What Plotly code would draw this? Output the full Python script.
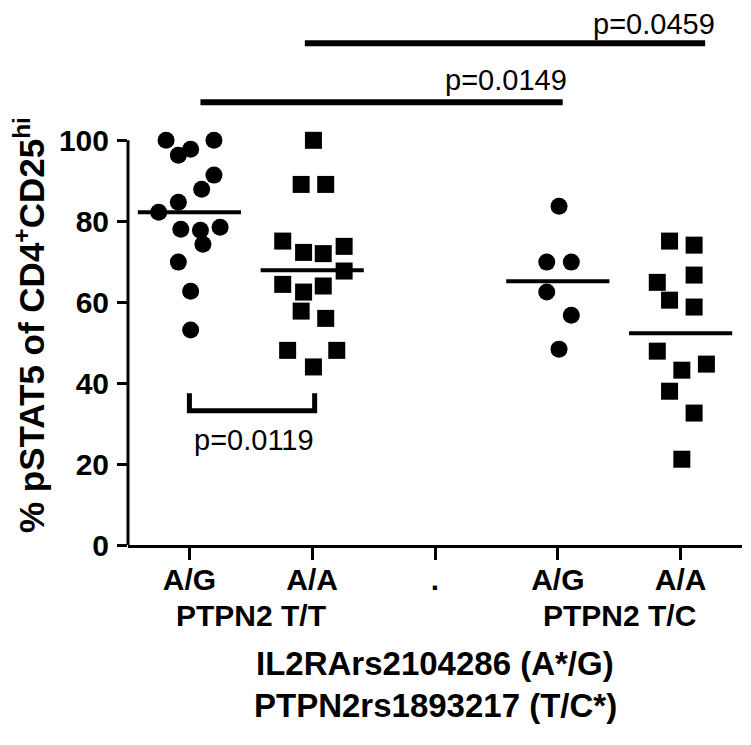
import plotly.graph_objects as go

# ---------------- data ----------------
categories = ["A/G", "A/A", ".", "A/G", "A/A"]

ag_tt = [100, 96.3, 97.8, 100, 91.4, 87.9, 84.7, 82.2, 78.0, 77.8, 78.5, 74.3, 69.9, 62.7, 53.1]
ag_tt_jitter = [-0.19, -0.09, 0.01, 0.2, 0.2, 0.1, -0.09, -0.25, -0.07, 0.09, 0.25, 0.11, -0.09, 0.01, 0.01]

aa_tt = [100, 89.1, 89.1, 75.1, 72.3, 72.0, 73.8, 67.7, 64.4, 62.5, 64.0, 57.8, 56.0, 48.1, 48.1, 44.0]
aa_tt_jitter = [0.01, -0.09, 0.11, -0.24, -0.07, 0.09, 0.26, 0.26, -0.24, -0.07, 0.09, -0.09, 0.11, -0.2, 0.2, 0.01]

ag_tc = [83.7, 69.9, 69.9, 62.5, 56.8, 48.4]
ag_tc_jitter = [0.01, -0.09, 0.11, -0.09, 0.11, 0.01]

aa_tc = [75.1, 74.1, 66.7, 64.9, 60.5, 58.8, 47.9, 43.2, 44.7, 38.0, 32.6, 21.2]
aa_tc_jitter = [-0.09, 0.11, 0.11, -0.19, -0.09, 0.11, -0.19, 0.01, 0.21, -0.09, 0.11, 0.01]

group_means = [82.2, 67.9, 65.2, 52.3]
group_positions = [0, 1, 3, 4]

y_ticks = [0, 20, 40, 60, 80, 100]

# ---------------- figure ----------------
FONT = "Arial, Liberation Sans, sans-serif"
Y_TOP = 128.0


def yp(v):
    """data value -> paper fraction (y axis spans 0..Y_TOP)"""
    return v / Y_TOP


fig = go.Figure()

groups = [
    (0, ag_tt, ag_tt_jitter, "circle"),
    (1, aa_tt, aa_tt_jitter, "square"),
    (3, ag_tc, ag_tc_jitter, "circle"),
    (4, aa_tc, aa_tc_jitter, "square"),
]
for pos, vals, jit, sym in groups:
    fig.add_trace(go.Scatter(
        x=[pos + j for j in jit], y=vals, mode="markers",
        marker=dict(symbol=sym, size=17, color="black", line=dict(width=0)),
        showlegend=False, cliponaxis=False, hoverinfo="y"))

for pos, m in zip(group_positions, group_means):
    fig.add_trace(go.Scatter(
        x=[pos - 0.42, pos + 0.42], y=[m, m], mode="lines",
        line=dict(color="black", width=4), showlegend=False, hoverinfo="skip"))

shapes = [
    # y axis line (0-100 only)
    dict(type="line", xref="paper", yref="y", x0=0, x1=0, y0=0, y1=100,
         line=dict(color="black", width=3)),
    # bracket p=0.0119
    dict(type="path", xref="x", yref="y",
         path="M 0,37.5 L 0,33.2 L 1.02,33.2 L 1.02,37.5",
         line=dict(color="black", width=5)),
    # top comparison lines
    dict(type="line", xref="x", yref="y", x0=0.09, x1=3.04, y0=109.4, y1=109.4,
         line=dict(color="black", width=6)),
    dict(type="line", xref="x", yref="y", x0=0.94, x1=4.2, y0=124, y1=124,
         line=dict(color="black", width=6)),
]

ann_font = dict(family=FONT, size=29, color="black")
bold_font = dict(family=FONT, size=30, color="black", weight="bold")
title_font = dict(family=FONT, size=33, color="black", weight="bold")
annotations = [
    dict(text="p=0.0119", x=0.53, y=yp(25.9), xref="x", yref="paper", showarrow=False,
         font=ann_font, xanchor="center", yanchor="middle"),
    dict(text="p=0.0149", x=2.58, y=yp(115), xref="x", yref="paper", showarrow=False,
         font=ann_font, xanchor="center", yanchor="middle"),
    dict(text="p=0.0459", x=3.78, y=yp(128.7), xref="x", yref="paper", showarrow=False,
         font=ann_font, xanchor="center", yanchor="middle"),
    dict(text="PTPN2 T/T", x=0.5, y=yp(-17.3), xref="x", yref="paper", showarrow=False,
         font=bold_font, xanchor="center", yanchor="middle"),
    dict(text="PTPN2 T/C", x=3.5, y=yp(-17.3), xref="x", yref="paper", showarrow=False,
         font=bold_font, xanchor="center", yanchor="middle"),
    dict(text="IL2RArs2104286 (A*/G)", x=0.5, y=yp(-29.3), xref="paper", yref="paper",
         showarrow=False, font=title_font, xanchor="center", yanchor="middle"),
    dict(text="PTPN2rs1893217 (T/C*)", x=0.5, y=yp(-39.6), xref="paper", yref="paper",
         showarrow=False, font=title_font, xanchor="center", yanchor="middle"),
    dict(text="% pSTAT5 of CD4<sup>+</sup>CD25<sup>hi</sup>", x=-0.16, y=yp(54.3),
         xref="paper", yref="paper", textangle=-90, showarrow=False,
         xanchor="center", yanchor="middle",
         font=dict(family=FONT, size=35, color="black", weight="bold")),
]

fig.update_layout(
    width=743, height=737,
    margin=dict(l=120, r=9, t=19, b=200),
    paper_bgcolor="white", plot_bgcolor="white",
    shapes=shapes, annotations=annotations,
    xaxis=dict(range=[-0.5, 4.5], tickvals=[0, 1, 2, 3, 4], ticktext=categories,
               showline=True, linecolor="black", linewidth=3,
               ticks="outside", ticklen=12, tickwidth=3, tickcolor="black",
               ticklabelstandoff=-6,
               showgrid=False, zeroline=False,
               tickfont=dict(family=FONT, size=30, color="black", weight="bold")),
    yaxis=dict(range=[0, Y_TOP], tickvals=y_ticks, showline=False,
               ticks="outside", ticklen=10, tickwidth=3, tickcolor="black",
               ticklabelstandoff=2,
               showgrid=False, zeroline=False,
               tickfont=dict(family=FONT, size=30, color="black", weight="bold")),
)

fig.write_html("out.html")
